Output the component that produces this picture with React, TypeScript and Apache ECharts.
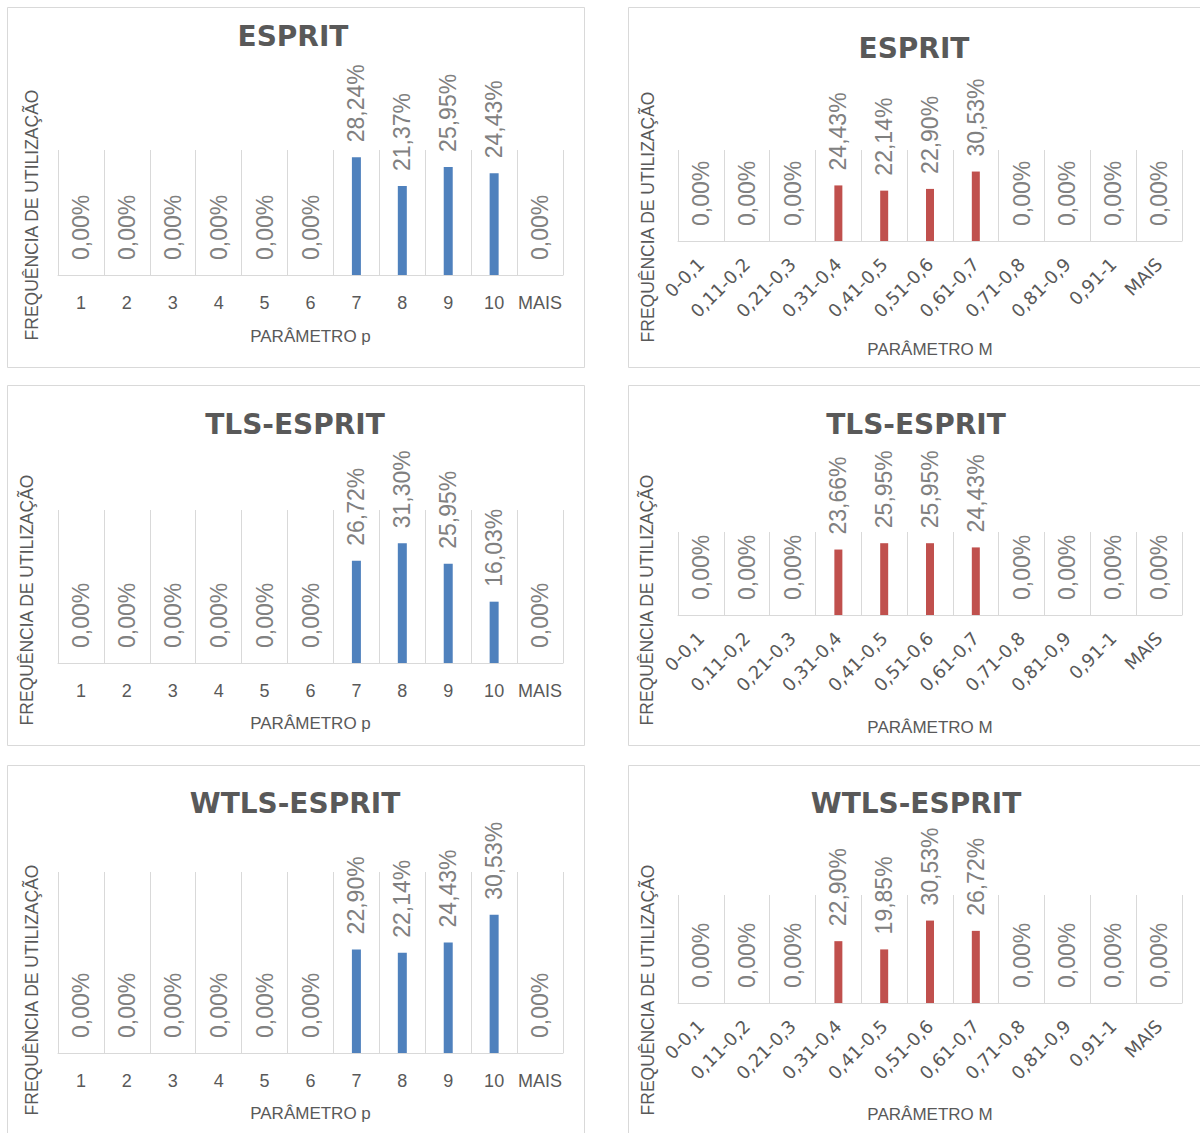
import React, { useEffect, useRef } from "react";
import * as echarts from "echarts";

const pCategories = ["1", "2", "3", "4", "5", "6", "7", "8", "9", "10", "MAIS"];
const mCategories = ["0-0,1", "0,11-0,2", "0,21-0,3", "0,31-0,4", "0,41-0,5", "0,51-0,6", "0,61-0,7", "0,71-0,8", "0,81-0,9", "0,91-1", "MAIS"];

const espritP = [0, 0, 0, 0, 0, 0, 28.24, 21.37, 25.95, 24.43, 0];
const tlsP = [0, 0, 0, 0, 0, 0, 26.72, 31.3, 25.95, 16.03, 0];
const wtlsP = [0, 0, 0, 0, 0, 0, 22.9, 22.14, 24.43, 30.53, 0];

const espritM = [0, 0, 0, 24.43, 22.14, 22.9, 30.53, 0, 0, 0, 0];
const tlsM = [0, 0, 0, 23.66, 25.95, 25.95, 24.43, 0, 0, 0, 0];
const wtlsM = [0, 0, 0, 22.9, 19.85, 30.53, 26.72, 0, 0, 0, 0];

const titles = ["ESPRIT", "ESPRIT", "TLS-ESPRIT", "TLS-ESPRIT", "WTLS-ESPRIT", "WTLS-ESPRIT"];
const xNames = ["PARÂMETRO p", "PARÂMETRO M", "PARÂMETRO p", "PARÂMETRO M", "PARÂMETRO p", "PARÂMETRO M"];
const yName = "FREQUÊNCIA DE UTILIZAÇÃO";
const yMax = [30, 40, 40, 30, 40, 40];

const BLUE = "#4f81bd";
const RED = "#c0504d";
const FONT = "Liberation Sans, Arial, sans-serif";

const layout = [
  { grid: { left: 58, top: 150, width: 505, height: 125 }, tx: 293, ty: 38, gap: 53, yn: [32, 215], box: [7.5, 7.5, 577, 360], right: false },
  { grid: { left: 678, top: 150, width: 504, height: 91 }, tx: 914, ty: 50, gap: 100, yn: [648, 217], box: [628.5, 7.5, 600, 360], right: true },
  { grid: { left: 58, top: 510, width: 505, height: 153 }, tx: 295, ty: 426, gap: 52, yn: [27, 600], box: [7.5, 385.5, 577, 360], right: false },
  { grid: { left: 678, top: 532, width: 504, height: 83 }, tx: 916, ty: 426, gap: 104, yn: [647, 600], box: [628.5, 385.5, 600, 360], right: true },
  { grid: { left: 58, top: 872, width: 505, height: 181 }, tx: 295, ty: 805, gap: 52, yn: [32, 990], box: [7.5, 765.5, 577, 400], right: false },
  { grid: { left: 678, top: 895, width: 504, height: 108 }, tx: 916, ty: 805, gap: 103, yn: [648, 990], box: [628.5, 765.5, 600, 400], right: true },
];

const seriesData = [espritP, espritM, tlsP, tlsM, wtlsP, wtlsM];

export default function App() {
  const ref = useRef<HTMLDivElement>(null);
  useEffect(() => {
    document.body.style.margin = "0";
    const chart = echarts.init(ref.current!, null, { renderer: "svg" });
    const fmt = (p: any) => p.value.toFixed(2).replace(".", ",") + "%";
    const option: any = {
      animation: false,
      backgroundColor: "#ffffff",
      title: layout.map((l, i) => ({
        text: titles[i],
        left: l.tx,
        top: l.ty - 16,
        textAlign: "center",
        padding: 0,
        textStyle: { fontFamily: "DejaVu Sans", fontWeight: "bold", fontSize: 28, color: "#595959" },
      })),
      grid: layout.map((l) => ({ ...l.grid, containLabel: false })),
      xAxis: layout.map((l, i) => ({
        type: "category",
        gridIndex: i,
        data: l.right ? mCategories : pCategories,
        boundaryGap: true,
        name: xNames[i],
        nameLocation: "middle",
        nameGap: l.gap,
        nameTextStyle: { fontFamily: FONT, fontSize: 17, color: "#595959" },
        axisLine: { show: true, lineStyle: { color: "#d9d9d9", width: 1 } },
        axisTick: { show: false },
        splitLine: { show: true, interval: 0, lineStyle: { color: "#d9d9d9", width: 1 } },
        axisLabel: l.right
          ? { interval: 0, rotate: 45, margin: 20, fontFamily: "DejaVu Sans", fontSize: 18, color: "#595959", hideOverlap: false }
          : { interval: 0, margin: 19, fontFamily: FONT, fontSize: 18, color: "#595959", hideOverlap: false },
      })),
      yAxis: layout.map((l, i) => ({
        type: "value",
        gridIndex: i,
        min: 0,
        max: yMax[i],
        show: false,
        splitLine: { show: false },
      })),
      series: layout.map((l, i) => ({
        type: "bar",
        xAxisIndex: i,
        yAxisIndex: i,
        data: seriesData[i],
        barWidth: l.right ? 8 : 9,
        itemStyle: { color: l.right ? RED : BLUE },
        label: {
          show: true,
          position: "top",
          rotate: 90,
          align: "left",
          verticalAlign: "middle",
          distance: 15,
          formatter: fmt,
          fontFamily: FONT,
          fontSize: 23,
          color: "#808080",
        },
      })),
      graphic: [
        ...layout.map((l) => ({
          type: "rect",
          shape: { x: l.box[0], y: l.box[1], width: l.box[2], height: l.box[3] },
          style: { fill: "none", stroke: "#d9d9d9", lineWidth: 1 },
          silent: true,
          z: -1,
        })),
        ...layout.map((l) => ({
          type: "text",
          x: l.yn[0],
          y: l.yn[1],
          rotation: Math.PI / 2,
          style: {
            text: yName,
            fontFamily: FONT,
            fontSize: 17.5,
            fill: "#595959",
            align: "center",
            verticalAlign: "middle",
          },
        })),
      ],
    };
    chart.setOption(option);
    return () => chart.dispose();
  }, []);
  return <div ref={ref} style={{ width: 1200, height: 1133 }} />;
}
